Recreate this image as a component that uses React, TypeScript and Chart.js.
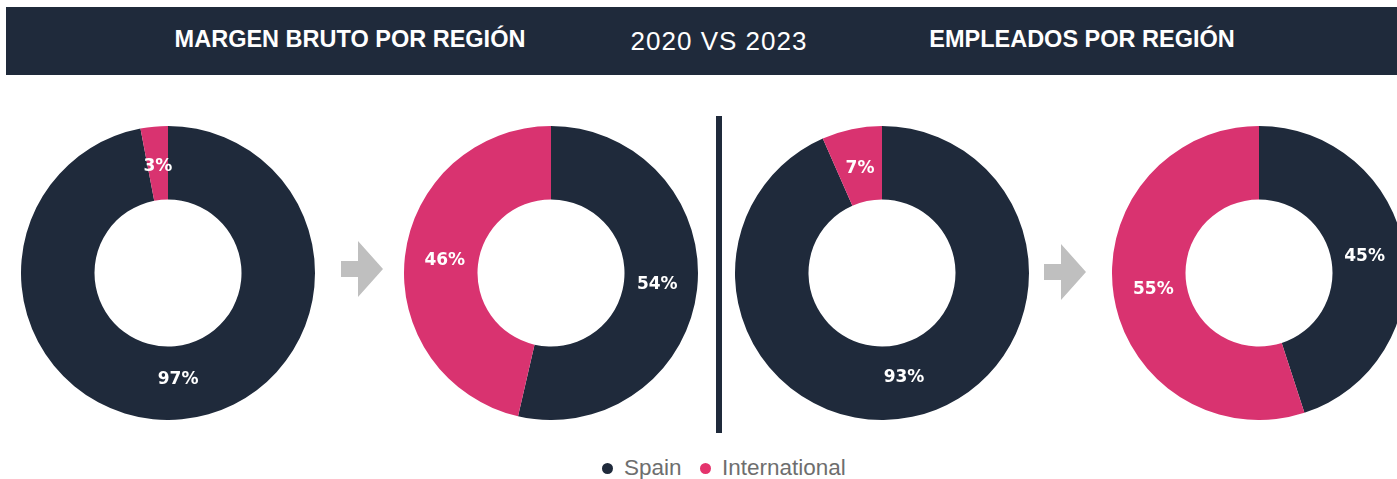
import React, { useEffect, useRef } from "react";
import { Chart, registerables } from "chart.js";

Chart.register(...registerables);

// ---- data ----
const categories = ["Spain", "International"];
const margin2020 = [97, 3];
const margin2023 = [53.6, 46.4];
const employees2020 = [93.4, 6.6];
const employees2023 = [45, 55];

const headerLeft = "MARGEN BRUTO POR REGIÓN";
const headerMid = "2020 VS 2023";
const headerRight = "EMPLEADOS POR REGIÓN";

const NAVY = "#1f2a3b";
const PINK = "#d93370";
const LEGEND_PINK = "#e4336c";

const labelPlugin = {
  id: "sliceLabels",
  afterDatasetsDraw(chart: any) {
    const ctx = chart.ctx;
    const meta = chart.getDatasetMeta(0);
    const data = chart.data.datasets[0].data as number[];
    ctx.save();
    ctx.font = "bold 17px 'DejaVu Sans'";
    ctx.fillStyle = "#ffffff";
    ctx.textAlign = "center";
    ctx.textBaseline = "middle";
    meta.data.forEach((arc: any, i: number) => {
      const p = arc.getProps(["x", "y", "startAngle", "endAngle", "innerRadius", "outerRadius"], true);
      const mid = (p.startAngle + p.endAngle) / 2;
      const r = ((p.innerRadius + p.outerRadius) / 2) * 0.97;
      const x = p.x + Math.cos(mid) * r;
      const y = p.y + Math.sin(mid) * r;
      ctx.fillText(Math.round(data[i]) + "%", x, y);
    });
    ctx.restore();
  },
};

function Donut({ values, cx, cy }: { values: number[]; cx: number; cy: number }) {
  const ref = useRef<HTMLCanvasElement | null>(null);
  useEffect(() => {
    if (!ref.current) return;
    const chart = new Chart(ref.current, {
      type: "doughnut",
      data: {
        labels: categories,
        datasets: [
          {
            data: values,
            backgroundColor: [NAVY, PINK],
            borderWidth: 0,
          },
        ],
      },
      options: {
        animation: false,
        responsive: true,
        maintainAspectRatio: false,
        cutout: "50%",
        layout: { padding: 0 },
        plugins: { legend: { display: false }, tooltip: { enabled: false } },
        events: [],
      },
      plugins: [labelPlugin],
    });
    return () => chart.destroy();
  }, [values]);
  const R = 147;
  return (
    <div style={{ position: "absolute", left: cx - R, top: cy - R, width: R * 2, height: R * 2 }}>
      <canvas ref={ref} />
    </div>
  );
}

function Arrow({ left, top }: { left: number; top: number }) {
  return (
    <div
      style={{
        position: "absolute",
        left,
        top,
        width: 42,
        height: 56,
        background: "#bfbfbf",
        clipPath: "polygon(0 35.7%, 40.5% 35.7%, 40.5% 0, 100% 50%, 40.5% 100%, 40.5% 64.3%, 0 64.3%)",
      }}
    />
  );
}

export default function App() {
  const headerText: React.CSSProperties = {
    position: "absolute",
    top: 0,
    height: 68,
    lineHeight: "68px",
    color: "#ffffff",
    whiteSpace: "nowrap",
    fontFamily: "'Liberation Sans', Arial, sans-serif",
    transform: "translateX(-50%)",
  };
  const legendText: React.CSSProperties = {
    position: "absolute",
    top: 0,
    height: 28,
    lineHeight: "28px",
    fontFamily: "'Liberation Sans', Arial, sans-serif",
    fontSize: 22.5,
    color: "#6e6e6e",
    whiteSpace: "nowrap",
  };
  const dot = (left: number, color: string): React.CSSProperties => ({
    position: "absolute",
    left,
    top: 9,
    width: 11,
    height: 11,
    borderRadius: "50%",
    background: color,
  });
  return (
    <div
      style={{
        position: "fixed",
        left: 0,
        top: 0,
        width: 1397,
        height: 479,
        overflow: "hidden",
        background: "#ffffff",
      }}
    >
      <div
        style={{
          position: "absolute",
          left: 6,
          top: 7,
          width: 1391,
          height: 68,
          background: NAVY,
        }}
      >
        <div style={{ ...headerText, left: 344, fontWeight: 700, fontSize: 23.5, top: -2 }}>{headerLeft}</div>
        <div style={{ ...headerText, left: 713, fontWeight: 400, fontSize: 26, letterSpacing: 1, top: 0 }}>{headerMid}</div>
        <div style={{ ...headerText, left: 1076, fontWeight: 700, fontSize: 23.5, top: -2 }}>{headerRight}</div>
      </div>

      <Donut values={margin2020} cx={168} cy={273} />
      <Arrow left={341} top={241} />
      <Donut values={margin2023} cx={551} cy={273} />

      <div style={{ position: "absolute", left: 716, top: 116, width: 6, height: 317, background: NAVY }} />

      <Donut values={employees2020} cx={882} cy={273} />
      <Arrow left={1044} top={244} />
      <Donut values={employees2023} cx={1259} cy={273} />

      <div style={{ position: "absolute", left: 0, top: 454, width: 1397, height: 28 }}>
        <span style={dot(602, NAVY)} />
        <span style={{ ...legendText, left: 624 }}>{categories[0]}</span>
        <span style={dot(700, LEGEND_PINK)} />
        <span style={{ ...legendText, left: 722 }}>{categories[1]}</span>
      </div>
    </div>
  );
}
